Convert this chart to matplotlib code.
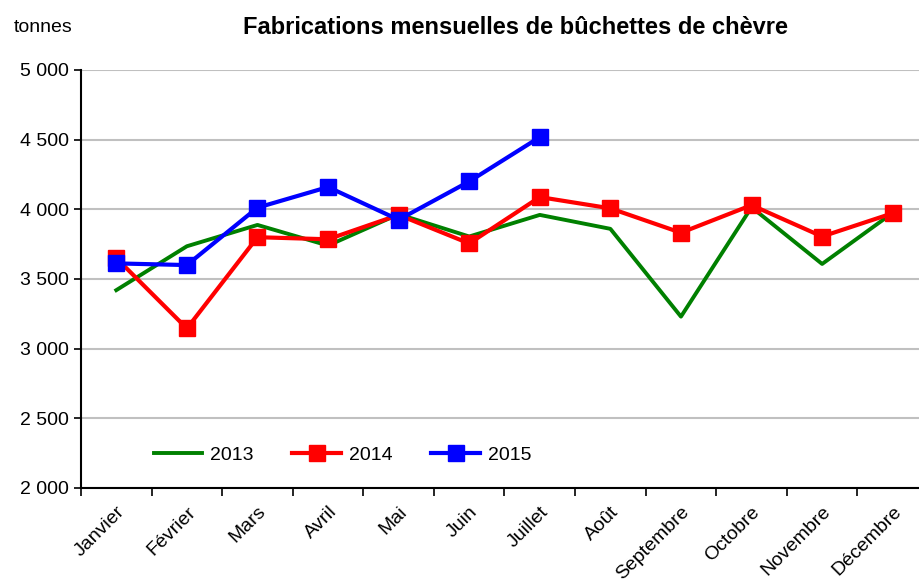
import matplotlib.pyplot as plt
import numpy as np
from matplotlib.ticker import FuncFormatter, FixedLocator

plt.rcParams['font.family'] = ['Liberation Sans', 'DejaVu Sans']

mois = ["Janvier", "Février", "Mars", "Avril", "Mai", "Juin", "Juillet",
        "Août", "Septembre", "Octobre", "Novembre", "Décembre"]
v2013 = [3420, 3735, 3888, 3740, 3965, 3805, 3960, 3860, 3230, 4015, 3608, 3975]
v2014 = [3650, 3145, 3800, 3785, 3960, 3755, 4088, 4007, 3832, 4030, 3805, 3972]
v2015 = [3612, 3600, 4012, 4160, 3925, 4200, 4518]

fig = plt.figure(figsize=(9.2, 5.85), dpi=100)
ax = fig.add_axes([81 / 920, 1 - 488 / 585, 847 / 920, 418 / 585])

x = np.arange(len(mois))
ax.plot(x, v2013, color="#008000", lw=2.8, label="2013", zorder=3)
ax.plot(x, v2014, color="#ff0000", lw=3, marker="s", ms=11, label="2014", zorder=4)
ax.plot(x[:len(v2015)], v2015, color="#0000ff", lw=3, marker="s", ms=11,
        label="2015", zorder=5)

ax.set_xlim(-0.5, 11.5)
ax.set_ylim(2000, 5000)
ax.set_yticks(np.arange(2000, 5001, 500))
ax.yaxis.set_major_formatter(FuncFormatter(lambda v, p: f"{int(v):,}".replace(",", " ")))
ax.grid(axis="y", color="#c0c0c0", lw=1.5)
ax.set_axisbelow(True)

ax.set_xticks(x)
ax.set_xticklabels(mois, rotation=45, ha="right", va="top", rotation_mode="anchor")
ax.tick_params(axis="x", which="major", length=0, pad=11)
ax.xaxis.set_minor_locator(FixedLocator(np.arange(-0.5, 12, 1)))
ax.tick_params(axis="x", which="minor", length=6, width=1.2, direction="out")
ax.tick_params(axis="y", length=5, width=1.2, direction="out", pad=4)
ax.tick_params(labelsize=14)

for s in ["top", "right"]:
    ax.spines[s].set_visible(False)
for s in ["left", "bottom"]:
    ax.spines[s].set_linewidth(1.5)

ax.legend(loc="lower left", bbox_to_anchor=(0.065, 0.015), ncol=3, frameon=False,
          fontsize=14, handlelength=2.5, columnspacing=2.0, handletextpad=0.4)

fig.text(14 / 920, 1 - 28 / 585, "tonnes", fontsize=14, va="center")
fig.text(516 / 920, 1 - 28 / 585, "Fabrications mensuelles de bûchettes de chèvre",
         fontsize=17, fontweight="bold", ha="center", va="center")

fig.savefig("out.png", dpi=100)
